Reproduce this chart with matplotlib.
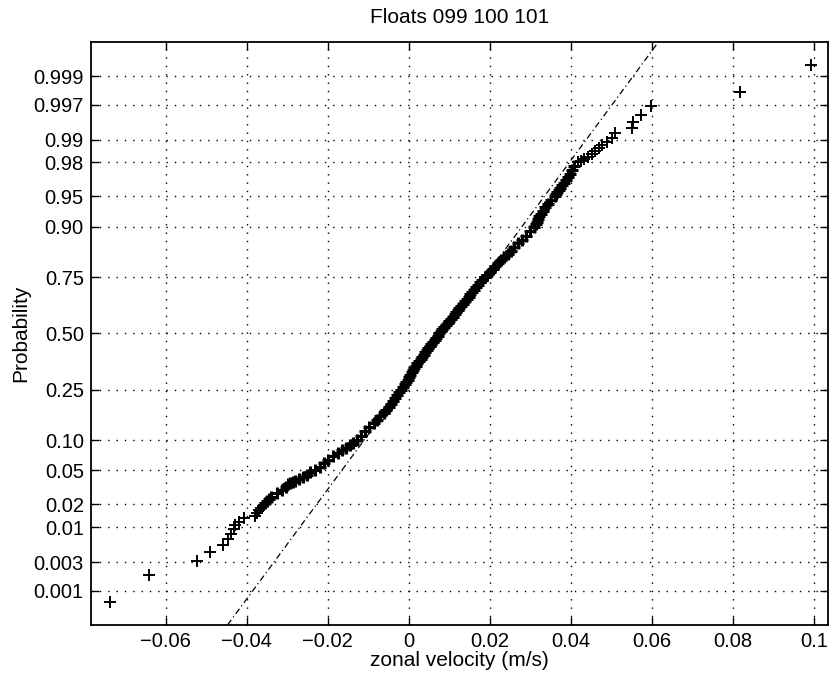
# normal probability plot, floats 099 100 101
from statistics import NormalDist

import matplotlib
matplotlib.use('Agg')
import matplotlib.pyplot as plt
import numpy as np

# plotting positions (probability) and sorted zonal velocity (m/s)
prob = [0.000625, 0.001875, 0.003125, 0.004375, 0.005625, 0.006875, 0.008125, 0.009375,
        0.010625, 0.011875, 0.013125, 0.014375, 0.015625, 0.016875, 0.018125, 0.019375,
        0.020625, 0.021875, 0.0235, 0.025, 0.0275, 0.030, 0.0325, 0.035, 0.0365, 0.0375,
        0.0385, 0.040, 0.0425, 0.045, 0.0475, 0.050, 0.055, 0.060, 0.065, 0.070, 0.075,
        0.080, 0.085, 0.090, 0.095, 0.10,
        0.11, 0.12, 0.13, 0.14, 0.15, 0.16, 0.17, 0.18, 0.19, 0.20,
        0.21, 0.22, 0.23, 0.24, 0.25, 0.26, 0.27, 0.28, 0.29, 0.30,
        0.31, 0.32, 0.33, 0.34, 0.35, 0.36, 0.37, 0.38, 0.39, 0.40,
        0.41, 0.42, 0.43, 0.44, 0.45, 0.46, 0.47, 0.48, 0.49, 0.50,
        0.51, 0.52, 0.53, 0.54, 0.55, 0.56, 0.57, 0.58, 0.59, 0.60,
        0.61, 0.62, 0.63, 0.64, 0.65, 0.66, 0.67, 0.68, 0.69, 0.70,
        0.71, 0.72, 0.73, 0.74, 0.75, 0.76, 0.77, 0.78, 0.79, 0.80,
        0.81, 0.82, 0.83, 0.84, 0.85, 0.86, 0.87, 0.88, 0.89, 0.90,
        0.905, 0.91, 0.915, 0.92, 0.925, 0.93, 0.935, 0.94, 0.945, 0.95,
        0.9525, 0.955, 0.9575, 0.96, 0.9625, 0.965, 0.9675, 0.97, 0.9725, 0.975,
        0.9775, 0.98, 0.980625, 0.981875, 0.983125, 0.984375, 0.985625, 0.986875,
        0.988125, 0.989375, 0.990625, 0.991875, 0.993125, 0.994375, 0.995625,
        0.996875, 0.998125, 0.999375]

velocity = [-0.0738, -0.0642, -0.0523, -0.0491, -0.0459, -0.0447, -0.0440, -0.0432,
            -0.0428, -0.0418, -0.0408, -0.0380, -0.0374, -0.0369, -0.0366, -0.0360,
            -0.0356, -0.0350, -0.0346, -0.0340, -0.0326, -0.0314, -0.0303, -0.0299, -0.0294, -0.0287,
            -0.0280, -0.0272, -0.0262, -0.0252, -0.0243, -0.0232, -0.0220, -0.0210, -0.0200, -0.0187, -0.0175,
            -0.0164, -0.0155, -0.0146, -0.0137, -0.0128,
            -0.0117, -0.0107, -0.0097, -0.0087, -0.0078, -0.0070, -0.0062, -0.0056, -0.0050, -0.0045,
            -0.0039, -0.0034, -0.0028, -0.0023, -0.0018, -0.0014, -0.0010, -0.0007, -0.0003, 0.0000,
            0.0004, 0.0007, 0.0011, 0.0014, 0.0018, 0.0021, 0.0025, 0.0029, 0.0033, 0.0037,
            0.0041, 0.0044, 0.0048, 0.0052, 0.0056, 0.0060, 0.0064, 0.0067, 0.0071, 0.0075,
            0.0079, 0.0083, 0.0087, 0.0092, 0.0096, 0.0100, 0.0104, 0.0108, 0.0113, 0.0117,
            0.0121, 0.0125, 0.0130, 0.0134, 0.0139, 0.0143, 0.0148, 0.0152, 0.0157, 0.0162,
            0.0167, 0.0172, 0.0177, 0.0182, 0.0187, 0.0193, 0.0200, 0.0207, 0.0214, 0.0221,
            0.0228, 0.0236, 0.0244, 0.0252, 0.0260, 0.0269, 0.0279, 0.0289, 0.0299, 0.0310,
            0.0313, 0.0316, 0.0319, 0.0322, 0.0326, 0.0331, 0.0337, 0.0344, 0.0352, 0.0360,
            0.0363, 0.0367, 0.0370, 0.0374, 0.0378, 0.0383, 0.0387, 0.0392, 0.0397, 0.0403,
            0.0409, 0.0418, 0.0425, 0.0433, 0.0442, 0.0452, 0.0461, 0.0470,
            0.0478, 0.0490, 0.0502, 0.0510, 0.0552, 0.0554, 0.0574,
            0.0598, 0.0817, 0.0993]

ytick_vals = [0.001, 0.003, 0.01, 0.02, 0.05, 0.10, 0.25, 0.50, 0.75, 0.90, 0.95,
              0.98, 0.99, 0.997, 0.999]
ytick_labels = ['0.001', '0.003', '0.01', '0.02', '0.05', '0.10', '0.25', '0.50', '0.75',
                '0.90', '0.95', '0.98', '0.99', '0.997', '0.999']
xtick_vals = [-0.06, -0.04, -0.02, 0, 0.02, 0.04, 0.06, 0.08, 0.1]
xtick_labels = ['\u22120.06', '\u22120.04', '\u22120.02', '0', '0.02', '0.04', '0.06', '0.08', '0.1']

nd = NormalDist()
_ppf = np.vectorize(lambda p: nd.inv_cdf(min(max(p, 1e-12), 1 - 1e-12)), otypes=[float])
_cdf = np.vectorize(nd.cdf, otypes=[float])


def fwd(p):
    return _ppf(np.asarray(p, dtype=float))


def inv(z):
    return _cdf(np.asarray(z, dtype=float))


plt.rcParams['font.family'] = ['Liberation Sans', 'DejaVu Sans']

fig = plt.figure(figsize=(8.33, 6.77), dpi=100)
ax = fig.add_axes([0.109, 0.077, 0.885, 0.861])
ax.set_yscale('function', functions=(fwd, inv))

ylo, yhi = nd.cdf(-3.5), nd.cdf(3.5)

# reference line through the quartiles, like normplot
q1 = np.interp(0.25, prob, velocity)
q3 = np.interp(0.75, prob, velocity)
z1, z3 = nd.inv_cdf(0.25), nd.inv_cdf(0.75)
slope = (q3 - q1) / (z3 - z1)
mid = (q1 + q3) / 2
zl = np.array([nd.inv_cdf(ylo), nd.inv_cdf(yhi)])
ax.plot(mid + slope * zl, [ylo, yhi], color='black', lw=0.9,
        linestyle=(0, (5, 2.5, 1, 2.5)), zorder=2)

# the body of the sample is a heap of overlapping crosses, the tails are sparse
p_arr = np.array(prob)
v_arr = np.array(velocity)
body = (p_arr > 0.02) & (p_arr < 0.98)
ax.plot(v_arr[body], p_arr[body], '+', color='black', ms=9, mew=2.2, zorder=3)
ax.plot(v_arr[~body], p_arr[~body], '+', color='black', ms=8, mew=1.4, zorder=3)

ax.set_xlim(-0.0785, 0.1035)
ax.set_ylim(ylo, yhi)
ax.set_xticks(xtick_vals)
ax.set_xticklabels(xtick_labels)
ax.set_yticks(ytick_vals)
ax.set_yticklabels(ytick_labels)
ax.yaxis.set_minor_locator(matplotlib.ticker.NullLocator())
ax.xaxis.set_minor_locator(matplotlib.ticker.NullLocator())

ax.grid(True, color='black', linestyle=(0, (1, 5)), linewidth=1.0)
ax.tick_params(direction='in', length=6, width=1, top=True, right=True,
               labelsize=14.5, pad=5)
for s in ax.spines.values():
    s.set_linewidth(1.3)

ax.set_title('Floats 099 100 101', fontsize=15, pad=14)
ax.set_xlabel('zonal velocity (m/s)', fontsize=15, labelpad=0)
ax.set_ylabel('Probability', fontsize=15, labelpad=2)

plt.savefig('out.png', dpi=100)
